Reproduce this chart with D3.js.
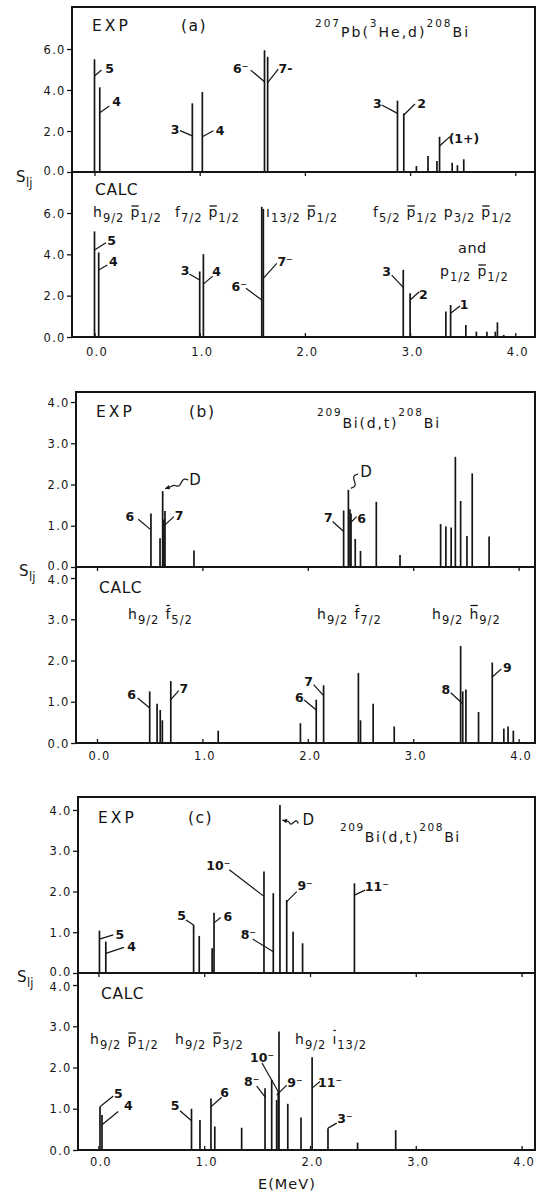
<!DOCTYPE html>
<html><head><meta charset="utf-8">
<script src="https://cdn.jsdelivr.net/npm/d3@7/dist/d3.min.js"></script>
<style>html,body{margin:0;padding:0;background:#fff;}svg{display:block;}</style>
</head><body>
<svg id="chart" width="536" height="1193"></svg>
<script>
// ---------------- DATA ----------------
const energyTicks = [0, 1, 2, 3, 4];
const energyTickLabels = ["0.0", "1.0", "2.0", "3.0", "4.0"];
const aStrengthTicks = [0, 2, 4, 6];
const aStrengthTickLabels = ["0.0", "2.0", "4.0", "6.0"];
const bcStrengthTicks = [0, 1, 2, 3, 4];
const bcStrengthTickLabels = ["0.0", "1.0", "2.0", "3.0", "4.0"];

// (a) 207Pb(3He,d)208Bi
const aExpEnergy   = [0.00, 0.05, 0.93, 1.025, 1.616, 1.646, 2.88, 2.94, 3.06, 3.17, 3.255, 3.28, 3.40, 3.45, 3.51];
const aExpStrength = [5.50, 4.13, 3.35, 3.90, 5.94, 5.62, 3.48, 2.86, 0.29, 0.78, 0.54, 1.72, 0.45, 0.33, 0.62];
const aExpSpinBar  = [0, 1, 2, 3, 4, 5, 6, 7, 11];
const aExpSpinText = ["5", "4", "3", "4", "6\u207B", "7-", "3", "2", "(1+)"];

const aCalcEnergy   = [0.00, 0.04, 1.00, 1.035, 1.59, 1.605, 2.935, 3.00, 3.34, 3.385, 3.53, 3.63, 3.73, 3.81, 3.83, 3.89];
const aCalcStrength = [5.11, 4.09, 3.17, 4.01, 6.30, 6.20, 3.25, 2.12, 1.23, 1.55, 0.58, 0.26, 0.26, 0.26, 0.71, 0.10];
const aCalcSpinBar  = [0, 1, 2, 3, 4, 5, 6, 7, 9];
const aCalcSpinText = ["5", "4", "3", "4", "6\u207B", "7\u207B", "3", "2", "1"];

// (b) 209Bi(d,t)208Bi
const bExpEnergy   = [0.512, 0.598, 0.623, 0.635, 0.645, 0.92, 2.34, 2.385, 2.40, 2.41, 2.45, 2.50, 2.65, 2.875, 3.26, 3.31, 3.36, 3.40, 3.45, 3.51, 3.56, 3.72];
const bExpStrength = [1.30, 0.70, 1.84, 1.15, 1.36, 0.40, 1.37, 1.87, 1.40, 1.30, 0.68, 0.39, 1.58, 0.29, 1.04, 0.98, 0.96, 2.67, 1.60, 0.75, 2.27, 0.74];
const bExpSpinBar  = [0, 4, 2, 6, 8, 7];
const bExpSpinText = ["6", "7", "D", "7", "6", "D"];

const bCalcEnergy   = [0.50, 0.57, 0.60, 0.62, 0.70, 1.15, 1.93, 2.08, 2.15, 2.48, 2.50, 2.62, 2.82, 3.45, 3.47, 3.50, 3.62, 3.75, 3.86, 3.90, 3.95];
const bCalcStrength = [1.25, 0.95, 0.80, 0.55, 1.50, 0.30, 0.48, 1.05, 1.40, 1.70, 0.55, 0.95, 0.40, 2.35, 1.25, 1.30, 0.75, 1.95, 0.35, 0.40, 0.30];
const bCalcSpinBar  = [0, 4, 7, 8, 14, 17];
const bCalcSpinText = ["6", "7", "6", "7", "8", "9"];

// (c) 209Bi(d,t)208Bi
const cExpEnergy   = [0.01, 0.07, 0.90, 0.953, 1.075, 1.093, 1.565, 1.653, 1.716, 1.78, 1.84, 1.93, 2.42];
const cExpStrength = [1.04, 0.77, 1.18, 0.91, 0.61, 1.48, 2.49, 1.96, 4.12, 1.79, 1.01, 0.73, 2.20];
const cExpSpinBar  = [0, 1, 2, 5, 6, 7, 8, 9, 12];
const cExpSpinText = ["5", "4", "5", "6", "10\u207B", "8\u207B", "D", "9\u207B", "11\u207B"];

const cCalcEnergy   = [0.015, 0.034, 0.88, 0.96, 1.064, 1.10, 1.354, 1.575, 1.638, 1.685, 1.70, 1.707, 1.79, 1.915, 2.02, 2.17, 2.45, 2.81];
const cCalcStrength = [1.05, 0.85, 1.00, 0.73, 1.25, 0.57, 0.54, 1.50, 1.70, 1.21, 1.41, 2.87, 1.12, 0.79, 2.25, 0.53, 0.18, 0.48];
const cCalcSpinBar  = [0, 1, 2, 4, 7, 11, 9, 14, 15];
const cCalcSpinText = ["5", "4", "5", "6", "8\u207B", "10\u207B", "9\u207B", "11\u207B", "3\u207B"];

// ---------------- LAYOUT (annotation placement, not data) ----------------
// [attach strength on bar, leader dx, leader dy, label dx, label dy, kind]
const aExpSpinLayout = [[4.68,7,-6,8,-2],[2.89,9.5,-6.7,7.4,-4.3],[1.76,-12.3,-5.3,-5,-0.7],[1.72,11,-6,6.7,-0.7],
  [4.4,-13.8,-11.7,-10,-1.7],[4.36,10.6,-13.4,7.3,-1],[2.86,-15.8,-8.3,-4.4,-1.7],[2.78,11.2,-11,6.7,-0.7],[1.27,10.4,-9.3,14,1.6]];
const aCalcSpinLayout = [[4.21,11.5,-7.3,5.7,-2],[3.24,8.6,-5,6,-3.3],[2.76,-10.4,-6,-4.3,-3],[2.56,9.3,-8,4,-4.3],
  [1.79,-15.8,-11.7,-6.7,-1.6],[2.84,13.4,-15,8.3,-2.3],[2.4,-11.6,-12.3,-5,-3.3],[1.79,9.2,-8.3,4,2.3],[1.15,9.4,-7.3,4,-1]];
const bExpSpinLayout = [[0.90,-12.7,-10.7,-8.3,-2.6],[1.02,9,-8.3,5,-1.5],[1.90,25.6,-8.6,6.7,0,"wave"],
  [0.86,-11,-10,-4.4,-4.4],[1.06,6.7,-6.6,5,1.6],[1.91,9.6,-14.3,8,-2.3,"squig"]];
const bCalcSpinLayout = [[0.85,-12,-10,-6,-3],[1.05,8,-9,5,-2],[0.8,-12,-10,-5,-3],[1.15,-10,-11,-5,-3],[0.95,-12,-11,-5,-3],[1.6,9,-8,6,-2]];
const cExpSpinLayout = [[0.83,13.8,-4.3,6.7,0],[0.48,18.2,-6,7.7,-0.6],[1.18,-7.6,-5,-4.3,-4],[1.23,6.7,-5.4,7,-1.3],
  [1.88,-34.7,-26.7,-11,-4],[0.52,-20.6,-12.7,-4.4,-4.3],[3.75,18.3,3.3,10,-4,"wave"],[1.75,10,-10,8.3,-5.7],[1.91,10.6,-5,11.7,-4]];
const cCalcSpinLayout = [[1.05,13.3,-10.7,5,-2.7],[0.61,16.3,-13.3,10,-6],[0.71,-11.5,-10,-5,-5.7],[1.05,10.7,-9.4,3,-5],
  [1.29,-8.3,-10.7,-5,-4.3],[1.38,-17,-30,0,-6],[1.33,10,-10,8.3,-2.3],[1.5,7.9,-6.6,10,1],[0.53,8.7,-5,8.3,-5]];

const INK = "#151515";
const FONT = "'DejaVu Sans', 'Liberation Sans', Arial, sans-serif";
const svg = d3.select("#chart");
svg.append("rect").attr("width", 536).attr("height", 1193).attr("fill", "#fff");

function txt(g, x, y, s, size, o = {}) {
  return g.append("text").attr("x", x).attr("y", y).text(s)
    .attr("font-family", FONT).attr("font-size", size)
    .attr("font-weight", o.weight || "normal")
    .attr("letter-spacing", o.ls || 0)
    .attr("text-anchor", o.anchor || "start")
    .attr("fill", INK);
}

function richTitle(g, x, y, parts, size, supSize, rise, ls) {
  const t = g.append("text").attr("x", x).attr("y", y).attr("font-family", FONT)
    .attr("fill", INK).attr("letter-spacing", ls);
  let up = false;
  parts.forEach(([s, sup]) => {
    const ts = t.append("tspan").text(s).attr("font-size", sup ? supSize : size);
    if (sup && !up) { ts.attr("dy", -rise); up = true; }
    else if (!sup && up) { ts.attr("dy", rise); up = false; }
  });
}

function orbital(g, x, y, parts) {
  let cx = x;
  parts.forEach(([l, sub, bar]) => {
    const t = txt(g, cx, y, l, 14);
    const w = t.node().getComputedTextLength();
    if (bar) {
      const h = (l === "p") ? 11 : 13.5;
      g.append("line").attr("x1", cx + 1).attr("x2", cx + w - 0.5).attr("y1", y - h).attr("y2", y - h)
        .attr("stroke", INK).attr("stroke-width", 1.3);
    }
    cx += w + 1;
    const s = txt(g, cx, y + 5, sub, 11.5, { ls: 1 });
    cx += s.node().getComputedTextLength() + 6;
  });
}

function sLabel(g, x, y) {
  txt(g, x, y, "S", 15);
  txt(g, x + 10, y + 5, "lj", 11.5);
}

function wavePath(g, A, B, amp, frac, arrow) {
  const n = 24, pts = [];
  const dx = A[0] - B[0], dy = A[1] - B[1], L = Math.hypot(dx, dy);
  const nx = -dy / L, ny = dx / L;
  for (let i = 0; i <= n; i++) {
    const t = i / n;
    const s = t < frac ? amp * Math.sin(2 * Math.PI * t / frac) : 0;
    pts.push([B[0] + dx * t + nx * s, B[1] + dy * t + ny * s]);
  }
  g.append("path").attr("d", d3.line().curve(d3.curveBasis)(pts)).attr("fill", "none")
    .attr("stroke", INK).attr("stroke-width", 1.2);
  if (arrow) {
    const ux = dx / L, uy = dy / L;
    const b = [A[0] - ux * 4.5, A[1] - uy * 4.5];
    g.append("path").attr("d", `M${A[0]},${A[1]}L${b[0] + nx * 2.3},${b[1] + ny * 2.3}L${b[0] - nx * 2.3},${b[1] - ny * 2.3}Z`)
      .attr("fill", INK);
  }
}

function drawBars(g, x, y, E, S) {
  g.selectAll(null).data(d3.range(E.length)).join("line")
    .attr("x1", i => x(E[i])).attr("x2", i => x(E[i]))
    .attr("y1", y(0)).attr("y2", i => y(S[i]))
    .attr("stroke", INK).attr("stroke-width", 1.7);
}

function drawSpins(g, x, y, E, barIdx, texts, layout) {
  barIdx.forEach((b, i) => {
    const L = layout[i];
    const A = [x(E[b]), y(L[0])];
    const B = [A[0] + L[1], A[1] + L[2]];
    if (L[5] === "wave") {
      wavePath(g, [A[0] + 2.5, A[1]], B, 2.2, 0.6, true);
    } else if (L[5] === "squig") {
      wavePath(g, [A[0] + 2.5, A[1]], B, 2.5, 1.0, false);
    } else {
      g.append("line").attr("x1", A[0]).attr("y1", A[1]).attr("x2", B[0]).attr("y2", B[1])
        .attr("stroke", INK).attr("stroke-width", 1.2);
    }
    const isD = texts[i] === "D";
    txt(g, B[0] + L[3], B[1] + L[4], texts[i], isD ? 15 : 12.5, { weight: isD ? "normal" : "bold", anchor: "middle" })
      .attr("dy", "0.36em");
  });
}

function yAxis(g, left, y, ticks, labels, shift) {
  const ax = g.append("g").attr("transform", `translate(${left},0)`)
    .call(d3.axisLeft(y).tickValues(ticks).tickFormat((d, i) => labels[i]).tickSize(5).tickPadding(1.5));
  ax.select(".domain").remove();
  ax.selectAll("line").attr("stroke", INK).attr("stroke-width", 1.3);
  ax.selectAll("text").attr("font-family", FONT).attr("font-size", 11.5).attr("letter-spacing", 1.2)
    .attr("fill", INK).attr("dy", "0.36em")
    .attr("y", (d) => shift ? shift(d) : 0);
}

function drawPanel(P) {
  const g = svg.append("g");
  const x = d3.scaleLinear().domain([0, 4]).range(P.xRange);
  const yE = d3.scaleLinear().domain(P.expDomain).range(P.expRange);
  const yC = d3.scaleLinear().domain(P.calcDomain).range(P.calcRange);

  drawBars(g, x, yE, P.expE, P.expS);
  drawBars(g, x, yC, P.calcE, P.calcS);

  // frame
  g.append("rect").attr("x", P.left).attr("y", P.top).attr("width", P.right - P.left)
    .attr("height", P.bottom - P.top).attr("fill", "none").attr("stroke", INK).attr("stroke-width", 2);
  g.append("line").attr("x1", P.left).attr("x2", P.right).attr("y1", P.mid).attr("y2", P.mid)
    .attr("stroke", INK).attr("stroke-width", 2);

  // x ticks on divider (down) and bottom (up)
  const mid = g.append("g").attr("transform", `translate(0,${P.mid})`)
    .call(d3.axisBottom(x).tickValues(energyTicks).tickFormat("").tickSize(4));
  mid.select(".domain").remove();
  mid.selectAll("line").attr("stroke", INK).attr("stroke-width", 1.3);
  const bot = g.append("g").attr("transform", `translate(0,${P.bottom})`)
    .call(d3.axisBottom(x).tickValues(energyTicks).tickFormat((d, i) => energyTickLabels[i]).tickSizeInner(-4).tickSizeOuter(0));
  bot.select(".domain").remove();
  bot.selectAll("line").attr("stroke", INK).attr("stroke-width", 1.3);
  bot.selectAll("text").attr("y", P.xLabelBase - P.bottom).attr("dy", 0).attr("dx", 2)
    .attr("font-family", FONT).attr("font-size", 11.5).attr("letter-spacing", 1.2).attr("fill", INK);

  const topMax = P.calcTicks[P.calcTicks.length - 1];
  yAxis(g, P.left, yE, P.expTicks, P.expTickLabels, d => (d === 0 ? -1.5 : 0));
  yAxis(g, P.left, yC, P.calcTicks, P.calcTickLabels, d => (d === 4 && P.calcTicks.length === 5 ? 1.5 : 0));

  drawSpins(g, x, yE, P.expE, P.expSpinBar, P.expSpinText, P.expSpinLayout);
  drawSpins(g, x, yC, P.calcE, P.calcSpinBar, P.calcSpinText, P.calcSpinLayout);

  txt(g, P.left + 20, P.expLabelY, "EXP", 15.5, { ls: 3 });
  txt(g, P.panelTagX, P.expLabelY, P.tag, 15.5, { ls: 1.5 });
  txt(g, P.left + 23, P.calcLabelY, "CALC", 15.5, { ls: 0.6 });
  richTitle(g, P.titleX, P.titleY, P.title, 14, 10.5, P.titleRise, P.titleLs);
  sLabel(g, P.sX, P.sY);
  P.orbitals.forEach(o => orbital(g, o.x, o.y, o.parts));
  return g;
}

const titleA = [["207", 1], ["Pb(", 0], ["3", 1], ["He,d)", 0], ["208", 1], ["Bi", 0]];
const titleBC = [["209", 1], ["Bi(d,t)", 0], ["208", 1], ["Bi", 0]];

drawPanel({
  left: 72, right: 535, top: 7, mid: 172, bottom: 337, xRange: [94.5, 515.3],
  expDomain: [0, 6], expRange: [172, 49], calcDomain: [0, 6], calcRange: [337, 213],
  expTicks: aStrengthTicks, expTickLabels: aStrengthTickLabels, calcTicks: aStrengthTicks, calcTickLabels: aStrengthTickLabels,
  expE: aExpEnergy, expS: aExpStrength, calcE: aCalcEnergy, calcS: aCalcStrength,
  expSpinBar: aExpSpinBar, expSpinText: aExpSpinText, expSpinLayout: aExpSpinLayout,
  calcSpinBar: aCalcSpinBar, calcSpinText: aCalcSpinText, calcSpinLayout: aCalcSpinLayout,
  xLabelBase: 356, expLabelY: 30.5, calcLabelY: 195, tag: "(a)", panelTagX: 181,
  title: titleA, titleX: 315, titleY: 36.5, titleRise: 10, titleLs: 2,
  sX: 16, sY: 182,
  orbitals: [
    { x: 93, y: 217, parts: [["h", "9/2", 0], ["p", "1/2", 1]] },
    { x: 175, y: 217, parts: [["f", "7/2", 0], ["p", "1/2", 1]] },
    { x: 266, y: 217, parts: [["\u0131", "13/2", 0], ["p", "1/2", 1]] },
    { x: 373, y: 217, parts: [["f", "5/2", 0], ["p", "1/2", 1], ["p", "3/2", 0], ["p", "1/2", 1]] },
    { x: 440, y: 276, parts: [["p", "1/2", 0], ["p", "1/2", 1]] }
  ]
});
txt(svg, 458, 253, "and", 14.5, { ls: 0.5 });

drawPanel({
  left: 76, right: 535, top: 392, mid: 567, bottom: 743, xRange: [97, 518.6],
  expDomain: [0, 4], expRange: [567, 402], calcDomain: [0, 4], calcRange: [743, 578],
  expTicks: bcStrengthTicks, expTickLabels: bcStrengthTickLabels, calcTicks: bcStrengthTicks, calcTickLabels: bcStrengthTickLabels,
  expE: bExpEnergy, expS: bExpStrength, calcE: bCalcEnergy, calcS: bCalcStrength,
  expSpinBar: bExpSpinBar, expSpinText: bExpSpinText, expSpinLayout: bExpSpinLayout,
  calcSpinBar: bCalcSpinBar, calcSpinText: bCalcSpinText, calcSpinLayout: bCalcSpinLayout,
  xLabelBase: 760, expLabelY: 417, calcLabelY: 593, tag: "(b)", panelTagX: 189,
  title: titleBC, titleX: 317, titleY: 428, titleRise: 12, titleLs: 1.8,
  sX: 19, sY: 576,
  orbitals: [
    { x: 128, y: 619, parts: [["h", "9/2", 0], ["f", "5/2", 1]] },
    { x: 317, y: 619, parts: [["h", "9/2", 0], ["f", "7/2", 1]] },
    { x: 432, y: 619, parts: [["h", "9/2", 0], ["h", "9/2", 1]] }
  ]
});

drawPanel({
  left: 78, right: 535, top: 797, mid: 973, bottom: 1150, xRange: [98.4, 521.6],
  expDomain: [0, 4], expRange: [973, 810], calcDomain: [0, 4], calcRange: [1150, 985],
  expTicks: bcStrengthTicks, expTickLabels: bcStrengthTickLabels, calcTicks: bcStrengthTicks, calcTickLabels: bcStrengthTickLabels,
  expE: cExpEnergy, expS: cExpStrength, calcE: cCalcEnergy, calcS: cCalcStrength,
  expSpinBar: cExpSpinBar, expSpinText: cExpSpinText, expSpinLayout: cExpSpinLayout,
  calcSpinBar: cCalcSpinBar, calcSpinText: cCalcSpinText, calcSpinLayout: cCalcSpinLayout,
  xLabelBase: 1166, expLabelY: 823, calcLabelY: 999, tag: "(c)", panelTagX: 188,
  title: titleBC, titleX: 340, titleY: 841.5, titleRise: 11, titleLs: 1.6,
  sX: 17, sY: 982,
  orbitals: [
    { x: 90, y: 1044, parts: [["h", "9/2", 0], ["p", "1/2", 1]] },
    { x: 175, y: 1044, parts: [["h", "9/2", 0], ["p", "3/2", 1]] },
    { x: 295, y: 1044, parts: [["h", "9/2", 0], ["\u0131", "13/2", 1]] }
  ]
});

txt(svg, 258, 1189, "E(MeV)", 14.5, { ls: 1 });
</script>
</body></html>
